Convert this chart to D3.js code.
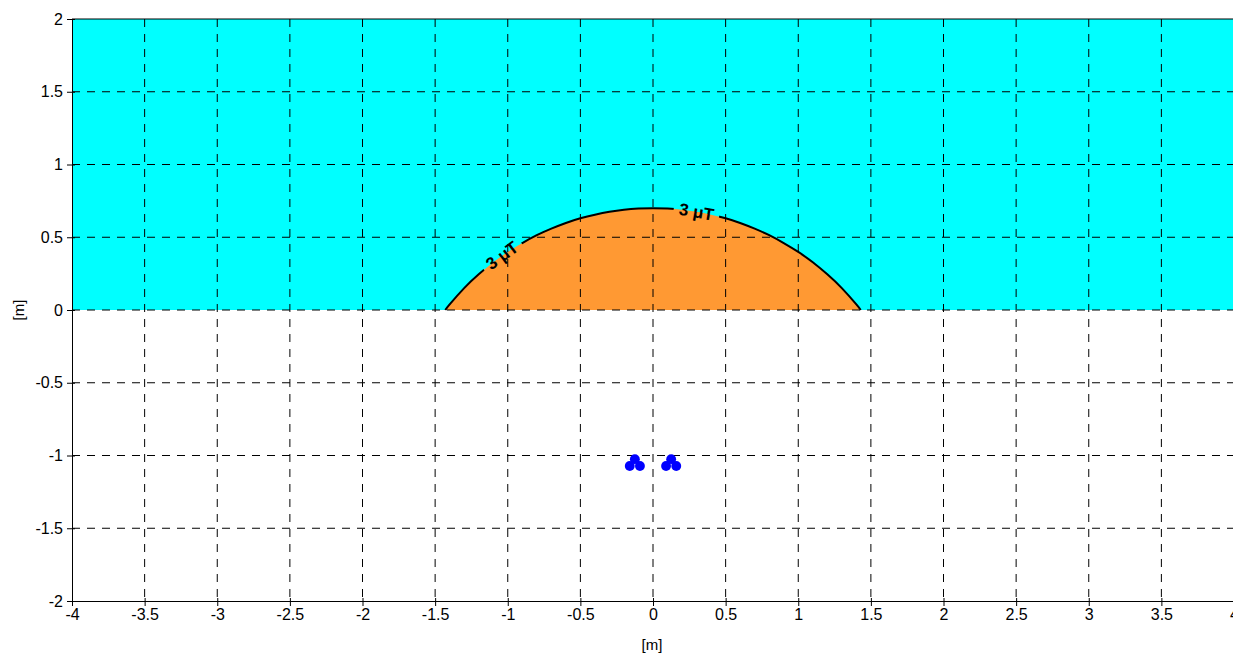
<html>
<head>
<script src="https://d3js.org/d3.v7.min.js"></script>
<style>
    body { margin: 0; background: #fff; }
    .grid line { stroke: #000; stroke-dasharray: 8,7; stroke-width: 1; }
    .axis path, .axis line { stroke: #000; }
</style>
</head>
<body>
<script>
// ticks every 0.5 m
var xTicks = [-4, -3.5, -3, -2.5, -2, -1.5, -1, -0.5, 0, 0.5, 1, 1.5, 2, 2.5, 3, 3.5, 4];
var yTicks = [-2, -1.5, -1, -0.5, 0, 0.5, 1, 1.5, 2];

// 3 uT contour [x, y]
var contourX = [-1.43, -1.4, -1.3, -1.2, -1.1, -1.0, -0.9, -0.8, -0.7, -0.6, -0.5, -0.4, -0.3, -0.2, -0.1, 0,
                0.1, 0.2, 0.3, 0.4, 0.5, 0.6, 0.7, 0.8, 0.9, 1.0, 1.1, 1.2, 1.3, 1.4, 1.43];
var contourY = [0, 0.038, 0.15, 0.245, 0.328, 0.399, 0.46, 0.514, 0.559, 0.598, 0.63, 0.655, 0.675, 0.689, 0.697, 0.70,
                0.697, 0.689, 0.675, 0.655, 0.63, 0.598, 0.559, 0.514, 0.46, 0.399, 0.328, 0.245, 0.15, 0.038, 0];

// contour labels: position and angle along the line
var labelX = [-1.04, 0.30];
var labelY = [0.375, 0.675];
var labelAngle = [-36, 10];
var labelText = ["3 \u03bcT", "3 \u03bcT"];

// cable conductors (two trefoil groups)
var cableX = [-0.125, -0.16, -0.09, 0.125, 0.09, 0.16];
var cableY = [-1.025, -1.072, -1.072, -1.025, -1.072, -1.072];
var cableR = 0.034;

var W = 1233, H = 655;
var x = d3.scaleLinear().domain([-4, 4]).range([72, 1234]);
var y = d3.scaleLinear().domain([-2, 2]).range([601, 19]);

var svg = d3.select("body").append("svg")
    .attr("width", W)
    .attr("height", H)
    .style("font-family", "'Liberation Sans', Arial, sans-serif");

// cyan half above ground
svg.append("rect")
    .attr("x", x(-4)).attr("y", y(2))
    .attr("width", x(4) - x(-4)).attr("height", y(0) - y(2))
    .attr("fill", "#00ffff");

var pts = contourX.map(function (d, i) { return [d, contourY[i]]; });
var line = d3.line().x(function (d) { return x(d[0]); }).y(function (d) { return y(d[1]); })
    .curve(d3.curveNatural);

svg.append("path")
    .attr("d", line(pts) + "Z")
    .attr("fill", "#ff9933");

// grid
var grid = svg.append("g").attr("class", "grid");
grid.selectAll(".gx").data(xTicks.slice(1, -1)).enter().append("line")
    .attr("x1", function (d) { return x(d); }).attr("x2", function (d) { return x(d); })
    .attr("y1", y(2)).attr("y2", y(-2));
grid.selectAll(".gy").data(yTicks.slice(1, -1)).enter().append("line")
    .attr("x1", x(-4)).attr("x2", x(4))
    .attr("y1", function (d) { return y(d); }).attr("y2", function (d) { return y(d); });

// mask for gaps in the contour line where labels sit
var mask = svg.append("defs").append("mask").attr("id", "labelgap");
mask.append("rect").attr("width", W).attr("height", H).attr("fill", "#fff");
labelX.forEach(function (d, i) {
    mask.append("rect")
        .attr("x", -23).attr("y", -10).attr("width", 46).attr("height", 20)
        .attr("fill", "#000")
        .attr("transform", "translate(" + x(d) + "," + y(labelY[i]) + ") rotate(" + labelAngle[i] + ")");
});

svg.append("path")
    .attr("d", line(pts))
    .attr("fill", "none")
    .attr("stroke", "#000")
    .attr("stroke-width", 2)
    .attr("mask", "url(#labelgap)");

labelX.forEach(function (d, i) {
    svg.append("text")
        .attr("transform", "translate(" + x(d) + "," + y(labelY[i]) + ") rotate(" + labelAngle[i] + ")")
        .attr("text-anchor", "middle")
        .attr("dy", "0.35em")
        .attr("font-size", 17)
        .attr("font-weight", "bold")
        .text(labelText[i]);
});

// cables
svg.selectAll(".cable").data(cableX).enter().append("circle")
    .attr("cx", function (d) { return x(d); })
    .attr("cy", function (d, i) { return y(cableY[i]); })
    .attr("r", x(cableR) - x(0))
    .attr("fill", "#0000ff");

// frame top
svg.append("line")
    .attr("x1", x(-4)).attr("x2", x(4)).attr("y1", y(2)).attr("y2", y(2))
    .attr("stroke", "#000");

var fmt = function (d) { return String(d); };

var xAxis = d3.axisBottom(x).tickValues(xTicks).tickFormat(fmt).tickSizeInner(5).tickSizeOuter(0).tickPadding(3);
var gx = svg.append("g").attr("class", "axis").attr("transform", "translate(0," + y(-2) + ")").call(xAxis);
gx.selectAll(".tick line").attr("y1", -3);

var yAxis = d3.axisLeft(y).tickValues(yTicks).tickFormat(fmt).tickSizeInner(5).tickSizeOuter(0).tickPadding(4);
var gy = svg.append("g").attr("class", "axis").attr("transform", "translate(" + x(-4) + ",0)").call(yAxis);
gy.selectAll(".tick line").attr("x1", 3);

svg.selectAll(".axis").attr("font-size", 16).attr("font-family", null);
svg.selectAll(".axis text").attr("fill", "#000");

svg.append("text")
    .attr("x", 652).attr("y", 650)
    .attr("text-anchor", "middle")
    .attr("font-size", 15)
    .text("[m]");

svg.append("text")
    .attr("transform", "translate(24," + y(0) + ") rotate(-90)")
    .attr("text-anchor", "middle")
    .attr("font-size", 15)
    .text("[m]");
</script>
</body>
</html>
